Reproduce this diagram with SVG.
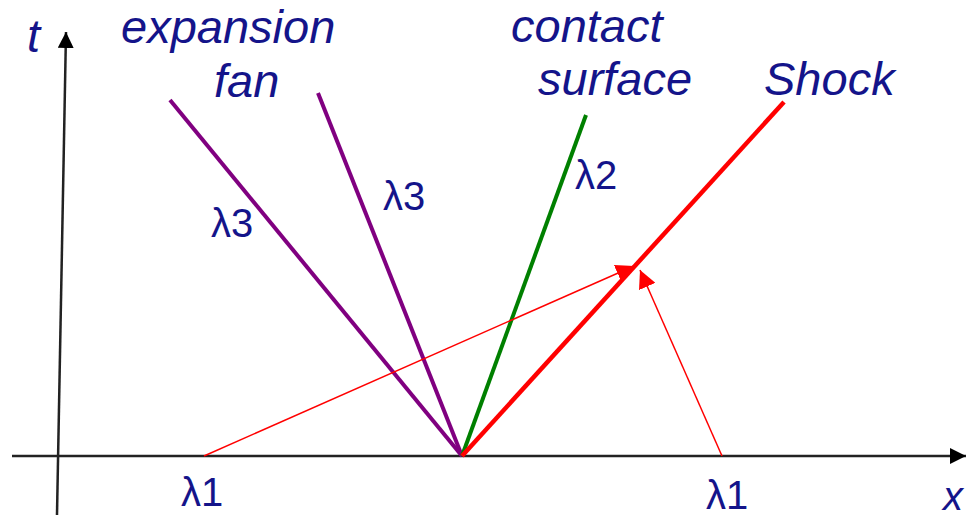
<svg xmlns="http://www.w3.org/2000/svg" width="969" height="517" viewBox="0 0 969 517">
<style>
.lab{font-family:"Liberation Sans",Arial,sans-serif;font-style:italic;font-size:47px;fill:#14148a}
.lam{font-family:"Liberation Sans",Arial,sans-serif;font-size:40px;fill:#14148a}
.axis{stroke:#222;stroke-width:2.5;fill:none}
.thin{stroke:#ff0000;stroke-width:1.5;fill:none}
</style>
<defs>
<marker id="ah" viewBox="0 0 10 10" refX="10" refY="5" markerWidth="16" markerHeight="16" markerUnits="userSpaceOnUse" orient="auto"><path d="M0,0L10,5L0,10z" fill="#000"/></marker>
<marker id="rh" viewBox="0 0 10 10" refX="10" refY="5" markerWidth="18" markerHeight="18" markerUnits="userSpaceOnUse" orient="auto"><path d="M0,0L10,5L0,10z" fill="#ff0000"/></marker>
</defs>
<g id="axes">
<line class="axis" x1="12" y1="456" x2="966" y2="456" marker-end="url(#ah)"/>
<line class="axis" x1="57" y1="515" x2="66" y2="32" marker-end="url(#ah)"/>
</g>
<g id="connectors">
<line x1="462" y1="456" x2="170" y2="100" stroke="#800080" stroke-width="4"/>
<line x1="462" y1="456" x2="318" y2="93" stroke="#800080" stroke-width="4"/>
<line x1="462" y1="456" x2="586" y2="115" stroke="#008000" stroke-width="4"/>
<line x1="462" y1="456" x2="784" y2="102" stroke="#ff0000" stroke-width="4.5"/>
<line class="thin" x1="204" y1="456" x2="634" y2="266" marker-end="url(#rh)"/>
<line class="thin" x1="722" y1="456" x2="640" y2="270" marker-end="url(#rh)"/>
</g>
<g id="labels">
<text class="lab" x="27" y="52">t</text>
<text class="lab" x="121" y="43">expansion</text>
<text class="lab" x="214" y="97">fan</text>
<text class="lab" x="511" y="42">contact</text>
<text class="lab" x="538" y="95">surface</text>
<text class="lab" x="764" y="95">Shock</text>
<text class="lab" x="943" y="510" style="font-size:40px">x</text>
<text class="lam" x="211" y="237">λ3</text>
<text class="lam" x="383" y="210">λ3</text>
<text class="lam" x="575" y="189">λ2</text>
<text class="lam" x="181" y="506">λ1</text>
<text class="lam" x="706" y="509">λ1</text>
</g>
</svg>
